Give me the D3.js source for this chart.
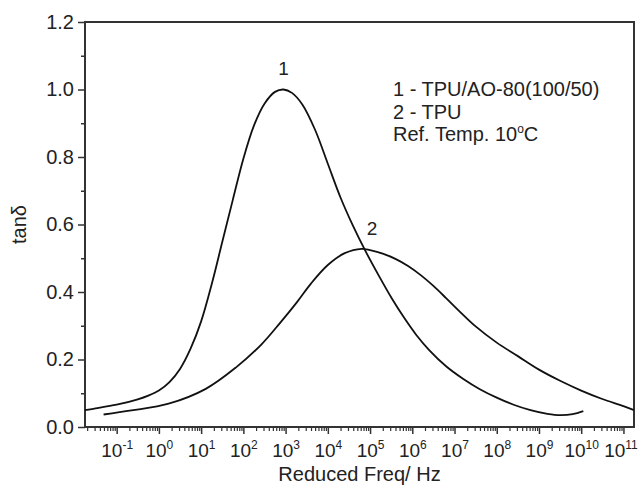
<!DOCTYPE html>
<html><head><meta charset="utf-8">
<script src="https://cdn.jsdelivr.net/npm/d3@7/dist/d3.min.js"></script>
<style>body{margin:0;background:#fff}svg{display:block}text{font-family:"Liberation Sans",Arial,sans-serif;fill:#222}</style>
</head><body><svg id="c" width="638" height="492"></svg>
<script>
// log10 of reduced frequency (Hz) and tan delta values
const logF1 = [-1.75,-1.5,-1.0,-0.5,-0.25,0.0,0.25,0.5,0.75,1.0,1.25,1.5,1.75,2.0,2.25,2.5,2.75,2.95,3.15,3.4,3.7,4.0,4.3,4.6,4.88,5.2,5.52,5.8,6.1,6.4,6.8,7.2,7.6,8.0,8.4,8.8,9.2,9.5,9.8,10.05];
const tan1  = [0.050,0.055,0.066,0.082,0.093,0.108,0.133,0.172,0.232,0.313,0.423,0.548,0.673,0.795,0.893,0.958,0.993,1.000,0.990,0.955,0.880,0.780,0.680,0.595,0.524,0.450,0.380,0.325,0.272,0.228,0.180,0.143,0.112,0.087,0.066,0.050,0.039,0.035,0.038,0.047];
const logF2 = [-1.31,-0.65,0.23,1.11,1.82,2.43,2.88,3.27,3.6,4.0,4.4,4.8,5.0,5.3,5.6,5.9,6.2,6.5,6.8,7.1,7.5,8.0,8.5,9.0,9.5,10.0,10.5,11.0,11.25];
const tan2  = [0.037,0.049,0.069,0.113,0.176,0.245,0.310,0.370,0.425,0.480,0.515,0.528,0.524,0.514,0.498,0.477,0.450,0.418,0.382,0.345,0.298,0.250,0.210,0.170,0.137,0.108,0.083,0.062,0.050];
const xTickExps = [-1,0,1,2,3,4,5,6,7,8,9,10,11];
const yTicks = [0.0,0.2,0.4,0.6,0.8,1.0,1.2];
const yMinor = [0.1,0.3,0.5,0.7,0.9,1.1];
const legendLines = ["1 - TPU/AO-80(100/50)","2 - TPU"];

const svg = d3.select("#c");
const L=85,R=634,T=22,B=427;
const x = d3.scaleLog().domain([Math.pow(10,-1.75),Math.pow(10,11.25)]).range([L,R]);
const y = d3.scaleLinear().domain([0,1.2]).range([B,T]);

const axc="#333";
// y axis
const ya = svg.append("g").attr("transform",`translate(${L},0)`)
  .call(d3.axisLeft(y).tickValues(yTicks).tickFormat(d3.format(".1f")).tickSize(7).tickPadding(4));
ya.select(".domain").remove();
ya.selectAll("line").attr("stroke",axc).attr("stroke-width",1.5);
ya.selectAll("text").style("font-size","20px").attr("fill","#222");
const ym = svg.append("g").attr("transform",`translate(${L},0)`)
  .call(d3.axisLeft(y).tickValues(yMinor).tickFormat("").tickSize(4));
ym.select(".domain").remove();
ym.selectAll("line").attr("stroke",axc).attr("stroke-width",1.5);

// x axis
const minor=[];
for(let e=-2;e<=11;e++){for(let k=2;k<=9;k++){const v=k*Math.pow(10,e); if(v>=x.domain()[0]&&v<=x.domain()[1]) minor.push(v);}}
const xm = svg.append("g").attr("transform",`translate(0,${B})`)
  .call(d3.axisBottom(x).tickValues(minor).tickFormat("").tickSize(4));
xm.select(".domain").remove();
xm.selectAll("line").attr("stroke",axc).attr("stroke-width",1.2);
const xa = svg.append("g").attr("transform",`translate(0,${B})`)
  .call(d3.axisBottom(x).tickValues(xTickExps.map(e=>Math.pow(10,e))).tickFormat("").tickSize(7));
xa.select(".domain").remove();
xa.selectAll("line").attr("stroke",axc).attr("stroke-width",1.5);
xa.selectAll(".tick").append("text").attr("y",30).attr("text-anchor","middle").style("font-size","19px")
  .attr("x",(d,i)=> i===xTickExps.length-1 ? -3 : 0)
  .each(function(d,i){
    const t=d3.select(this);
    t.append("tspan").text("10");
    t.append("tspan").attr("dy",-8).style("font-size","12px").text(String(xTickExps[i]));
  });

// frame
svg.append("rect").attr("x",L).attr("y",T).attr("width",R-L).attr("height",B-T)
  .attr("fill","none").attr("stroke",axc).attr("stroke-width",2);

// curves
const line = d3.line().x(d=>x(Math.pow(10,d[0]))).y(d=>y(d[1])).curve(d3.curveCatmullRom.alpha(0.5));
svg.append("path").datum(logF1.map((v,i)=>[v,tan1[i]])).attr("d",line).attr("fill","none").attr("stroke","#111").attr("stroke-width",1.8);
svg.append("path").datum(logF2.map((v,i)=>[v,tan2[i]])).attr("d",line).attr("fill","none").attr("stroke","#111").attr("stroke-width",1.8);

// curve labels
svg.append("text").attr("x",x(Math.pow(10,2.95))).attr("y",75).attr("text-anchor","middle").style("font-size","19px").text("1");
svg.append("text").attr("x",372).attr("y",235).attr("text-anchor","middle").style("font-size","19px").text("2");

// legend
legendLines.forEach((s,i)=>svg.append("text").attr("x",393).attr("y",96+i*22.5).style("font-size","20px").text(s));
const rt = svg.append("text").attr("x",393).attr("y",141).style("font-size","20px");
rt.append("tspan").text("Ref. Temp. 10");
rt.append("tspan").attr("dy",-8).style("font-size","12px").text("o");
rt.append("tspan").attr("dy",8).text("C");

// axis titles
svg.append("text").attr("x",(L+R)/2).attr("y",481).attr("text-anchor","middle").style("font-size","20px").text("Reduced Freq/ Hz");
svg.append("text").attr("transform",`translate(26,${(T+B)/2}) rotate(-90)`).attr("text-anchor","middle").style("font-size","20px").text("tanδ");
</script></body></html>
